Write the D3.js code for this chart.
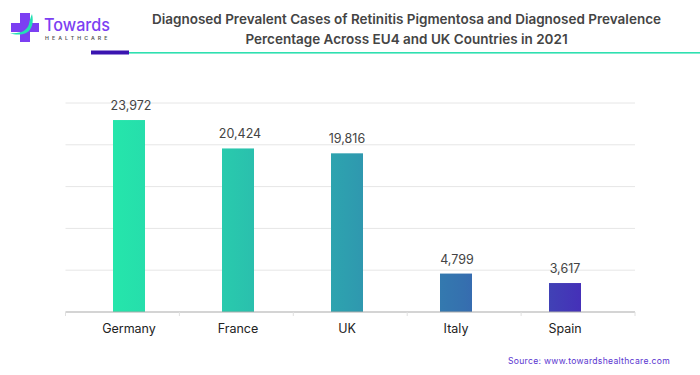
<!DOCTYPE html>
<html><head><meta charset="utf-8">
<script src="https://cdn.jsdelivr.net/npm/d3@7"></script>
<style>html,body{margin:0;padding:0;background:#fff}svg{display:block}text{font-family:Inter,Roboto,sans-serif}</style>
</head><body><svg id="c" width="700" height="375"></svg>
<script>
const categories=["Germany","France","UK","Italy","Spain"];
const values=[23972,20424,19816,4799,3617];
const gridTicks=[0,5220,10440,15660,20880,26100];
const titleLines=["Diagnosed Prevalent Cases of Retinitis Pigmentosa and Diagnosed Prevalence","Percentage Across EU4 and UK Countries in 2021"];
const barStops=["#25E6AB","#29C8AD","#2E9EAF","#3570AF","#4530B8"];
const svg=d3.select("#c");
const x=d3.scaleBand().domain(categories).range([74.5,619.5]);
const xTicks=d3.scaleLinear().domain([0,5]).range([65.5,635]);
const y=d3.scaleLinear().domain([0,26100]).range([312,103]);
const bw=32;
const barX=c=>x(c)+x.bandwidth()/2-bw/2;
const defs=svg.append("defs");
const grad=defs.append("linearGradient").attr("id","g").attr("gradientUnits","userSpaceOnUse")
 .attr("x1",barX("Germany")).attr("x2",barX("Spain")+bw).attr("y1",0).attr("y2",0);
grad.selectAll("stop").data(barStops).join("stop").attr("offset",(d,i)=>i/4).attr("stop-color",d=>d);
// grid
svg.append("g").selectAll("line").data(gridTicks.slice(1)).join("line")
 .attr("x1",65.5).attr("x2",635).attr("y1",d=>y(d)).attr("y2",d=>y(d)).attr("stroke","#e6e6e6").attr("stroke-width",1);
// bars
svg.append("g").selectAll("rect").data(values).join("rect")
 .attr("x",(d,i)=>barX(categories[i])).attr("width",bw)
 .attr("y",d=>y(d)).attr("height",d=>y(0)-y(d)).attr("fill","url(#g)");
// axis
const ax=svg.append("g").attr("transform","translate(0,312)").call(d3.axisBottom(x).tickSize(0).tickPadding(12));
ax.select(".domain").remove();
ax.selectAll("text").attr("font-size",12.5).attr("fill","#222").style("font-family","Inter,Roboto,sans-serif");
svg.append("line").attr("x1",65.5).attr("x2",635).attr("y1",312).attr("y2",312).attr("stroke","#a9a9a9").attr("stroke-width",1.2);
svg.append("g").selectAll("line").data(d3.range(6)).join("line")
 .attr("x1",i=>xTicks(i)).attr("x2",i=>xTicks(i)).attr("y1",312).attr("y2",316).attr("stroke","#e0e0e0");
// labels
svg.append("g").selectAll("text").data(values).join("text")
 .attr("x",(d,i)=>x(categories[i])+x.bandwidth()/2+(i<2?2:i==3?1:0)).attr("y",d=>y(d)-10).attr("text-anchor","middle")
 .attr("font-size",12.5).attr("fill","#444").text(d3.format(","));
// title
svg.append("g").selectAll("text").data(titleLines).join("text")
 .attr("x",406.5).attr("y",(d,i)=>24+i*19.5).attr("text-anchor","middle").attr("font-size",13.5).attr("font-weight",600).attr("fill","#444").text(d=>d);
// header rule
svg.append("rect").attr("x",129).attr("y",52).attr("width",571).attr("height",1.6).attr("fill","#2FE0B0");
svg.append("rect").attr("x",91).attr("y",50.5).attr("width",38).attr("height",4).attr("fill","#3A14B0");
// logo
const logo=svg.append("g");
logo.append("path").attr("d","M20 13H30V23H39V32H30V42H20V32H11V23H20Z").attr("fill","#7C3FF2");
logo.append("path").attr("d","M10 33C20 34 27 31 29 24C30 19 31 16 32 14C34 22 32 30 26 33C21 35 15 35 10 33Z").attr("fill","#24E0B4");
logo.append("text").attr("x",44).attr("y",31).attr("font-size",17).attr("font-weight",500).attr("fill","#7C3FF2").attr("textLength",66).attr("lengthAdjust","spacingAndGlyphs").text("Towards");
logo.append("text").attr("x",45).attr("y",39.5).attr("font-size",5.2).attr("font-weight",600).attr("letter-spacing",3.1).attr("fill","#555").text("HEALTHCARE");
// source
svg.append("text").attr("x",670).attr("y",364).attr("text-anchor","end").attr("font-size",8.6).attr("letter-spacing",.3).attr("fill","#5A35D0").text("Source: www.towardshealthcare.com");
</script></body></html>
